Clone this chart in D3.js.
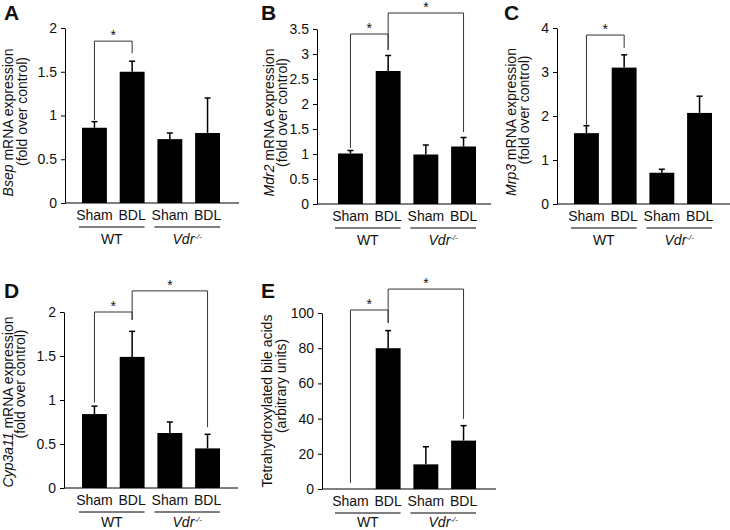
<!DOCTYPE html>
<html>
<head>
  <script src="https://d3js.org/d3.v7.min.js"></script>
  <style>
    body { margin: 0; background: #fff; }
    svg { display: block; font-family: "Liberation Sans", Arial, sans-serif; }
    text { fill: #111; }
  </style>
</head>
<body>
  <svg id="chart" width="730" height="530"></svg>
  <script>
    // ---- data ---------------------------------------------------------
    const conditions = ["WT Sham", "WT BDL", "Vdr Sham", "Vdr BDL"];
    const conditionLabels = ["Sham", "BDL", "Sham", "BDL"];
    const groupLabels = ["WT", "Vdr"];

    const bsepMean = [0.86, 1.50, 0.73, 0.80];
    const bsepSem = [0.07, 0.12, 0.07, 0.40];
    const bsepTicks = [0, 0.5, 1, 1.5, 2];
    // [from, to, left leg bottom, top, right leg bottom]
    const bsepSig = [[0, 1, 0.95, 1.85, 1.71]];

    const mdr2Mean = [1.01, 2.66, 0.99, 1.15];
    const mdr2Sem = [0.06, 0.31, 0.19, 0.18];
    const mdr2Ticks = [0, 0.5, 1, 1.5, 2, 2.5, 3, 3.5];
    const mdr2Sig = [[0, 1, 1.12, 3.40, 3.08], [1, 3, 3.08, 3.82, 1.44]];

    const mrp3Mean = [1.61, 3.10, 0.71, 2.07];
    const mrp3Sem = [0.17, 0.29, 0.08, 0.38];
    const mrp3Ticks = [0, 1, 2, 3, 4];
    const mrp3Sig = [[0, 1, 1.80, 3.84, 3.55]];

    const cypMean = [0.84, 1.49, 0.625, 0.45];
    const cypSem = [0.09, 0.29, 0.125, 0.16];
    const cypTicks = [0, 0.5, 1, 1.5, 2];
    const cypSig = [[0, 1, 0.97, 2.00, 1.91], [1, 3, 1.91, 2.24, 0.69]];

    const thbaMean = [0, 80, 14, 27.5];
    const thbaSem = [0, 10, 10, 8.5];
    const thbaTicks = [0, 20, 40, 60, 80, 100];
    const thbaSig = [[0, 1, 3.4, 101.7, 94.3], [1, 3, 94.3, 113.6, 39.8]];

    // ---- panel layout ---------------------------------------------------
    // labX = baseline of first y-label line, gap = distance to second line
    // s1/s2 = vertical shift of the two label lines from the axis middle
    const panels = [
      { letter: "A", lx: 4, ly: 20, gene: "Bsep", line2: "(fold over control)", labX: 13, gap: 14, s1: 7, s2: -4,
        axisX: 65, y0: 203, yTop: 28, barLeft: 82, mean: bsepMean, sem: bsepSem, ticks: bsepTicks, sig: bsepSig },
      { letter: "B", lx: 261, ly: 20, gene: "Mdr2", line2: "(fold over control)", labX: 274, gap: 13, s1: 6, s2: -4,
        axisX: 317, y0: 204, yTop: 29, barLeft: 338, mean: mdr2Mean, sem: mdr2Sem, ticks: mdr2Ticks, sig: mdr2Sig },
      { letter: "C", lx: 504, ly: 20, gene: "Mrp3", line2: "(fold over control)", labX: 516, gap: 13, s1: 6, s2: -6,
        axisX: 557, y0: 204, yTop: 28, barLeft: 574, mean: mrp3Mean, sem: mrp3Sem, ticks: mrp3Ticks, sig: mrp3Sig },
      { letter: "D", lx: 4, ly: 298, gene: "Cyp3a11", line2: "(fold over control)", labX: 13, gap: 12, s1: 2, s2: -16,
        axisX: 64, y0: 488, yTop: 312, barLeft: 82, mean: cypMean, sem: cypSem, ticks: cypTicks, sig: cypSig },
      { letter: "E", lx: 261, ly: 298, gene: null, line1: "Tetrahydroxylated bile acids", line2: "(arbitrary units)", labX: 272, gap: 14, s1: 0, s2: -15,
        axisX: 322, y0: 489, yTop: 313, barLeft: 338, mean: thbaMean, sem: thbaSem, ticks: thbaTicks, sig: thbaSig }
    ];

    const svg = d3.select("#chart");
    const fs = 14;

    function drawPanel(p) {
      const g = svg.append("g");

      const y = d3.scaleLinear()
        .domain([0, p.ticks[p.ticks.length - 1]])
        .range([p.y0, p.yTop]);

      const x = d3.scaleBand()
        .domain(conditions)
        .range([p.barLeft, p.barLeft + 138])
        .paddingInner(0.34);
      const bw = x.bandwidth();

      // panel letter
      g.append("text")
        .attr("x", p.lx).attr("y", p.ly)
        .attr("font-size", 21).attr("font-weight", "bold")
        .text(p.letter);

      // y axis
      g.append("g")
        .attr("transform", `translate(${p.axisX},0)`)
        .call(d3.axisLeft(y).tickValues(p.ticks).tickSize(4).tickSizeOuter(0).tickPadding(4).tickFormat(d => d))
        .call(a => a.attr("font-family", null).attr("font-size", fs))
        .call(a => a.selectAll("text").attr("fill", "#111"));

      // x baseline
      g.append("line")
        .attr("x1", p.axisX).attr("x2", p.axisX + 174)
        .attr("y1", p.y0).attr("y2", p.y0)
        .attr("stroke", "#000");

      // bars
      g.selectAll(".bar")
        .data(conditions)
        .join("rect")
        .attr("class", "bar")
        .attr("x", d => x(d))
        .attr("y", (d, i) => y(p.mean[i]))
        .attr("width", bw)
        .attr("height", (d, i) => p.y0 - y(p.mean[i]))
        .attr("fill", "#000");

      // error bars
      conditions.forEach((c, i) => {
        if (!p.sem[i]) return;
        const cx = x(c) + bw / 2;
        g.append("line")
          .attr("x1", cx).attr("x2", cx)
          .attr("y1", y(p.mean[i])).attr("y2", y(p.mean[i] + p.sem[i]))
          .attr("stroke", "#000").attr("stroke-width", 1.5);
        g.append("line")
          .attr("x1", cx - 3).attr("x2", cx + 3)
          .attr("y1", y(p.mean[i] + p.sem[i])).attr("y2", y(p.mean[i] + p.sem[i]))
          .attr("stroke", "#000").attr("stroke-width", 1.5);
      });

      // significance brackets
      p.sig.forEach(s => {
        const xl = x(conditions[s[0]]) + bw / 2;
        const xr = x(conditions[s[1]]) + bw / 2;
        g.append("path")
          .attr("d", `M${xl},${y(s[2])}V${y(s[3])}H${xr}V${y(s[4])}`)
          .attr("fill", "none").attr("stroke", "#333").attr("stroke-width", 1);
        g.append("text")
          .attr("x", (xl + xr) / 2).attr("y", y(s[3]) - 1)
          .attr("text-anchor", "middle").attr("font-size", fs)
          .text("*");
      });

      // condition labels
      g.selectAll(".cond")
        .data(conditions)
        .join("text")
        .attr("class", "cond")
        .attr("x", d => x(d) + bw / 2)
        .attr("y", p.y0 + 17)
        .attr("text-anchor", "middle")
        .attr("font-size", fs)
        .text((d, i) => conditionLabels[i]);

      // group underlines and labels
      groupLabels.forEach((gl, gi) => {
        const a = x(conditions[gi * 2]) - 3;
        const b = x(conditions[gi * 2 + 1]) + bw;
        g.append("line")
          .attr("x1", a).attr("x2", b)
          .attr("y1", p.y0 + 24).attr("y2", p.y0 + 24)
          .attr("stroke", "#000");
        const t = g.append("text")
          .attr("x", (a + b) / 2).attr("y", Math.min(p.y0 + 41, 527))
          .attr("text-anchor", "middle")
          .attr("font-size", fs);
        if (gl === "Vdr") {
          t.append("tspan").attr("font-style", "italic").text("Vdr");
          t.append("tspan").attr("font-size", 8).attr("dy", -5).attr("font-style", "italic").text("-/-");
        } else {
          t.text(gl);
        }
      });

      // y label
      const cy = (p.y0 + p.yTop) / 2;
      const l1 = g.append("text")
        .attr("transform", `translate(${p.labX},${cy + p.s1}) rotate(-90)`)
        .attr("text-anchor", "middle")
        .attr("font-size", fs);
      if (p.gene) {
        l1.append("tspan").attr("font-style", "italic").text(p.gene);
        l1.append("tspan").text(" mRNA expression");
      } else {
        l1.text(p.line1);
      }
      g.append("text")
        .attr("transform", `translate(${p.labX + p.gap},${cy + p.s2}) rotate(-90)`)
        .attr("text-anchor", "middle")
        .attr("font-size", fs)
        .text(p.line2);
    }

    panels.forEach(drawPanel);
  </script>
</body>
</html>
